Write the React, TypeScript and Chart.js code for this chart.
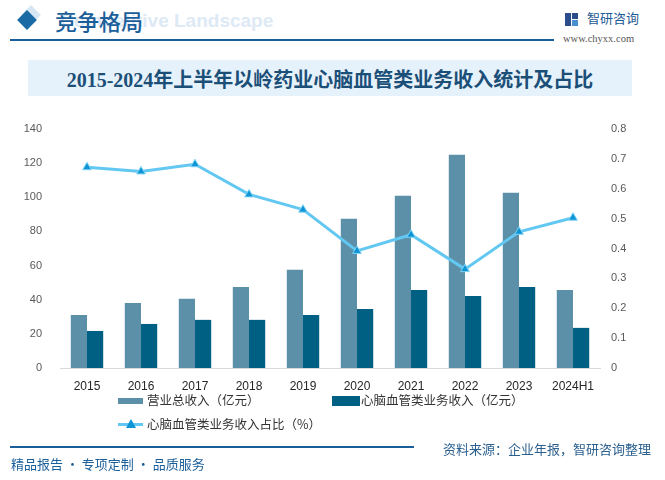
import React, { useEffect, useRef } from "react";
import { Chart, registerables } from "chart.js";

Chart.register(...registerables);

const categories = ["2015", "2016", "2017", "2018", "2019", "2020", "2021", "2022", "2023", "2024H1"];
const totalRevenue = [31.1, 38.1, 40.5, 47.5, 57.5, 87.4, 100.9, 124.9, 102.6, 45.7];
const cardioRevenue = [21.7, 25.8, 28.2, 28.2, 31.1, 34.6, 45.7, 42.2, 47.5, 23.5];
const cardioShare = [0.672, 0.658, 0.682, 0.581, 0.53, 0.392, 0.446, 0.331, 0.456, 0.503];

const seriesNames = ["营业总收入（亿元）", "心脑血管类业务收入（亿元）", "心脑血管类业务收入占比（%）"];

const COLOR_TOTAL = "#5b90a8";
const COLOR_CARDIO = "#006083";
const COLOR_LINE = "#62c8f2";
const COLOR_MARK = "#0f95d6";
const BLUE = "#1b5f9a";
const CJK = '"Noto Sans CJK SC", "Noto Sans", sans-serif';

export default function App() {
  const canvasRef = useRef<HTMLCanvasElement | null>(null);

  useEffect(() => {
    const canvas = canvasRef.current;
    if (!canvas) return;
    const chart = new Chart(canvas, {
      type: "bar",
      data: {
        labels: categories,
        datasets: [
          {
            type: "line",
            label: seriesNames[2],
            data: cardioShare,
            yAxisID: "y1",
            borderColor: COLOR_LINE,
            borderWidth: 3,
            pointStyle: "triangle",
            pointRadius: 5,
            pointBackgroundColor: COLOR_MARK,
            pointBorderColor: "#7fd4f5",
            pointBorderWidth: 1,
            tension: 0,
            order: 0,
          } as any,
          {
            type: "bar",
            label: seriesNames[0],
            data: totalRevenue,
            yAxisID: "y",
            backgroundColor: COLOR_TOTAL,
            categoryPercentage: 0.6,
            barPercentage: 1,
            order: 1,
          },
          {
            type: "bar",
            label: seriesNames[1],
            data: cardioRevenue,
            yAxisID: "y",
            backgroundColor: COLOR_CARDIO,
            categoryPercentage: 0.6,
            barPercentage: 1,
            order: 1,
          },
        ],
      },
      options: {
        animation: false,
        responsive: false,
        maintainAspectRatio: false,
        layout: { padding: { top: 129, left: 0, right: 0, bottom: 0 } },
        plugins: {
          legend: { display: false },
          tooltip: { enabled: false },
          title: { display: false },
        },
        scales: {
          x: {
            grid: { display: false },
            border: { display: true, color: "#d9d9d9", width: 1 },
            ticks: {
              padding: 3,
              color: "#262626",
              font: { family: '"Liberation Sans", Arial, sans-serif', size: 12 },
              maxRotation: 0,
            },
            afterFit: (s: any) => {
              s.height = 112;
            },
          },
          y: {
            position: "left",
            min: 0,
            max: 140,
            grid: { display: false },
            border: { display: false },
            ticks: {
              stepSize: 20,
              padding: 10,
              color: "#595959",
              font: { family: '"Liberation Sans", Arial, sans-serif', size: 11 },
            },
            afterFit: (s: any) => {
              s.width = 60;
            },
          },
          y1: {
            position: "right",
            min: 0,
            max: 0.8,
            grid: { display: false },
            border: { display: false },
            ticks: {
              stepSize: 0.1,
              padding: 3,
              color: "#595959",
              font: { family: '"Liberation Sans", Arial, sans-serif', size: 11 },
              callback: (v: any) => {
                const n = Number(v);
                return n === 0 ? "0" : n.toFixed(1);
              },
            },
            afterFit: (s: any) => {
              s.width = 65;
            },
          },
        },
      },
    });
    return () => chart.destroy();
  }, []);

  const abs = (style: React.CSSProperties): React.CSSProperties => ({ position: "absolute", ...style });

  return (
    <div
      style={{
        position: "fixed",
        left: 0,
        top: 0,
        width: 665,
        height: 480,
        background: "#ffffff",
        overflow: "hidden",
        fontFamily: CJK,
      }}
    >
      {/* header */}
      <div style={abs({ left: 24, top: 8, width: 14, height: 14, background: "#d6e6f3", transform: "rotate(45deg)" })} />
      <div style={abs({ left: 20, top: 13, width: 14, height: 14, background: "#1a6aa6", transform: "rotate(45deg)" })} />
      <div
        style={abs({
          left: 60,
          top: 9,
          fontFamily: '"Liberation Sans", Arial, sans-serif',
          fontWeight: 700,
          fontSize: 19,
          color: "#dde9f5",
          whiteSpace: "nowrap",
          lineHeight: "24px",
        })}
      >
        Competitive Landscape
      </div>
      <div
        style={abs({
          left: 55,
          top: 7,
          fontSize: 22,
          lineHeight: "26px",
          color: BLUE,
          whiteSpace: "nowrap",
          fontWeight: 500,
        })}
      >
        竞争格局
      </div>
      <div style={abs({ left: 10, top: 39, width: 544, height: 2, background: "#1a5e97" })} />
      {/* logo */}
      <div style={abs({ left: 565, top: 13, width: 6, height: 13, background: "#2b4d8c" })} />
      <div style={abs({ left: 572, top: 13, width: 6, height: 6, background: "#2b4d8c" })} />
      <div style={abs({ left: 572, top: 20, width: 6, height: 6, background: "#4a8fd0" })} />
      <div
        style={abs({ left: 587, top: 9, fontSize: 13, lineHeight: "18px", color: "#1e5a93", whiteSpace: "nowrap" })}
      >
        智研咨询
      </div>
      <div
        style={abs({
          left: 563,
          top: 32,
          fontSize: 10.5,
          lineHeight: "14px",
          color: "#555555",
          fontFamily: '"Liberation Serif", "DejaVu Serif", serif',
          whiteSpace: "nowrap",
        })}
      >
        www.chyxx.com
      </div>

      {/* title */}
      <div
        style={abs({
          left: 28,
          top: 60,
          width: 604,
          height: 36,
          background: "#e6f2fb",
          display: "flex",
          alignItems: "center",
          justifyContent: "center",
        })}
      >
        <span
          style={{
            fontFamily: '"Liberation Serif", "Noto Sans CJK SC", serif',
            fontWeight: 700,
            fontSize: 20,
            color: "#1b4f78",
            whiteSpace: "nowrap",
            letterSpacing: 0,
          }}
        >
          2015-2024年上半年以岭药业心脑血管类业务收入统计及占比
        </span>
      </div>

      {/* chart */}
      <canvas ref={canvasRef} width={665} height={480} style={abs({ left: 0, top: 0, width: 665, height: 480 })} />

      {/* legend */}
      <div style={abs({ left: 118, top: 398, width: 25, height: 6, background: COLOR_TOTAL })} />
      <div style={abs({ left: 147, top: 391, fontSize: 12.5, lineHeight: "18px", color: "#333333", whiteSpace: "nowrap" })}>
        {seriesNames[0]}
      </div>
      <div style={abs({ left: 332, top: 396, width: 28, height: 10, background: COLOR_CARDIO })} />
      <div style={abs({ left: 361, top: 391, fontSize: 12.5, lineHeight: "18px", color: "#333333", whiteSpace: "nowrap" })}>
        {seriesNames[1]}
      </div>
      <div style={abs({ left: 118, top: 423, width: 25, height: 3, background: COLOR_LINE })} />
      <div
        style={abs({
          left: 126,
          top: 419,
          width: 0,
          height: 0,
          borderLeft: "5px solid transparent",
          borderRight: "5px solid transparent",
          borderBottom: "9px solid " + COLOR_MARK,
        })}
      />
      <div style={abs({ left: 147, top: 415, fontSize: 12.5, lineHeight: "18px", color: "#333333", whiteSpace: "nowrap" })}>
        {seriesNames[2]}
      </div>

      {/* footer */}
      <div style={abs({ left: 10, top: 446, width: 404, height: 2, background: "#1a5e97" })} />
      <div style={abs({ left: 11, top: 455, fontSize: 13, lineHeight: "18px", color: BLUE, whiteSpace: "nowrap" })}>
        精品报告 · 专项定制 · 品质服务
      </div>
      <div style={abs({ left: 443, top: 440, fontSize: 13, lineHeight: "18px", color: "#2a5f8e", whiteSpace: "nowrap" })}>
        资料来源：企业年报，智研咨询整理
      </div>
    </div>
  );
}
